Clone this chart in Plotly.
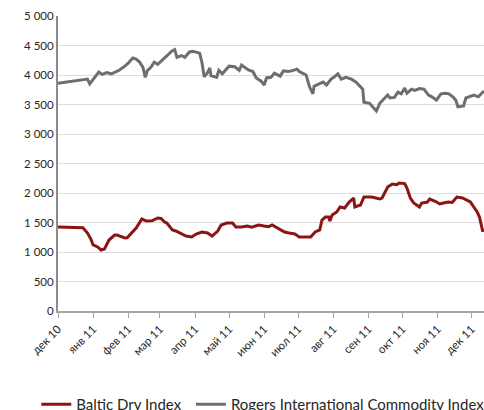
import plotly.graph_objects as go

month_ticks = ["2010-12-01", "2011-01-01", "2011-02-01", "2011-03-01", "2011-04-01", "2011-05-01",
               "2011-06-01", "2011-07-01", "2011-08-01", "2011-09-01", "2011-10-01", "2011-11-01",
               "2011-12-01"]
month_labels = ["дек 10", "янв 11", "фев 11", "мар 11", "апр 11", "май 11", "июн 11",
                "июл 11", "авг 11", "сен 11", "окт 11", "ноя 11", "дек 11"]

y_ticks = [0, 500, 1000, 1500, 2000, 2500, 3000, 3500, 4000, 4500, 5000]

rogers_dates = [
    "2010-12-01", "2010-12-24", "2010-12-27", "2010-12-29", "2011-01-06", "2011-01-09", "2011-01-13",
    "2011-01-17", "2011-01-21", "2011-01-24", "2011-01-29", "2011-02-01", "2011-02-05", "2011-02-08",
    "2011-02-11", "2011-02-14", "2011-02-16", "2011-02-18", "2011-02-21", "2011-02-24", "2011-02-27",
    "2011-03-02", "2011-03-05", "2011-03-08", "2011-03-11", "2011-03-14", "2011-03-16", "2011-03-20",
    "2011-03-23", "2011-03-27", "2011-03-30", "2011-04-02", "2011-04-05", "2011-04-07", "2011-04-09",
    "2011-04-12", "2011-04-14", "2011-04-15", "2011-04-20", "2011-04-22", "2011-04-25", "2011-05-01",
    "2011-05-06", "2011-05-10", "2011-05-12", "2011-05-18", "2011-05-22", "2011-05-25", "2011-05-29",
    "2011-06-01", "2011-06-03", "2011-06-07", "2011-06-10", "2011-06-15", "2011-06-18", "2011-06-22",
    "2011-06-25", "2011-06-30", "2011-07-02", "2011-07-06", "2011-07-08", "2011-07-11", "2011-07-14",
    "2011-07-15", "2011-07-20", "2011-07-23", "2011-07-26", "2011-07-30", "2011-08-02", "2011-08-05",
    "2011-08-08", "2011-08-12", "2011-08-17", "2011-08-21", "2011-08-27", "2011-08-28", "2011-09-02",
    "2011-09-05", "2011-09-08", "2011-09-11", "2011-09-15", "2011-09-18", "2011-09-20", "2011-09-24",
    "2011-09-27", "2011-09-30", "2011-10-03", "2011-10-05", "2011-10-09", "2011-10-12", "2011-10-16",
    "2011-10-20", "2011-10-24", "2011-10-27", "2011-10-31", "2011-11-04", "2011-11-08", "2011-11-11",
    "2011-11-15", "2011-11-17", "2011-11-19", "2011-11-24", "2011-11-26", "2011-11-30", "2011-12-03",
    "2011-12-07", "2011-12-10", "2011-12-12"]
rogers_values = [
    3860, 3915, 3930, 3850, 4050, 4010, 4040,
    4020, 4060, 4080, 4150, 4200, 4290, 4270,
    4220, 4130, 3960, 4080, 4130, 4220, 4180,
    4230, 4290, 4340, 4400, 4430, 4300, 4330,
    4300, 4390, 4400, 4380, 4370, 4220, 3970,
    4040, 4120, 3990, 3960, 4080, 4020, 4150,
    4140, 4080, 4170, 4085, 4060, 3950, 3900,
    3830, 3950, 3960, 4030, 3980, 4070, 4060,
    4070, 4100, 4060, 4020, 4000, 3800, 3680,
    3810, 3860, 3880, 3830, 3930, 3970, 4020,
    3930, 3960, 3930, 3880, 3760, 3540, 3520,
    3450, 3390, 3520, 3600, 3660, 3610, 3620,
    3710, 3680, 3780, 3690, 3760, 3740, 3770,
    3760, 3660, 3630, 3575, 3680, 3690, 3680,
    3620, 3575, 3460, 3475, 3610, 3640, 3660,
    3630, 3700, 3730]

bdi_dates = [
    "2010-12-01", "2010-12-23", "2010-12-27", "2010-12-30", "2011-01-01", "2011-01-05", "2011-01-08",
    "2011-01-11", "2011-01-15", "2011-01-20", "2011-01-22", "2011-01-26", "2011-01-29", "2011-01-31",
    "2011-02-05", "2011-02-08", "2011-02-13", "2011-02-17", "2011-02-22", "2011-02-27", "2011-03-02",
    "2011-03-05", "2011-03-07", "2011-03-12", "2011-03-15", "2011-03-20", "2011-03-24", "2011-03-29",
    "2011-04-02", "2011-04-07", "2011-04-12", "2011-04-16", "2011-04-21", "2011-04-24", "2011-04-29",
    "2011-05-04", "2011-05-07", "2011-05-12", "2011-05-17", "2011-05-21", "2011-05-24", "2011-05-27",
    "2011-06-01", "2011-06-05", "2011-06-08", "2011-06-13", "2011-06-19", "2011-06-23", "2011-06-28",
    "2011-07-02", "2011-07-12", "2011-07-16", "2011-07-20", "2011-07-22", "2011-07-25", "2011-07-28",
    "2011-07-29", "2011-07-31", "2011-08-04", "2011-08-07", "2011-08-11", "2011-08-15", "2011-08-19",
    "2011-08-20", "2011-08-25", "2011-08-28", "2011-09-04", "2011-09-11", "2011-09-13", "2011-09-18",
    "2011-09-22", "2011-09-26", "2011-09-28", "2011-10-03", "2011-10-05", "2011-10-08", "2011-10-11",
    "2011-10-16", "2011-10-18", "2011-10-23", "2011-10-25", "2011-10-30", "2011-11-03", "2011-11-08",
    "2011-11-11", "2011-11-14", "2011-11-18", "2011-11-23", "2011-11-30", "2011-12-03", "2011-12-06",
    "2011-12-08", "2011-12-11"]
bdi_values = [
    1424, 1410, 1322, 1220, 1119, 1085, 1034,
    1050, 1203, 1288, 1288, 1260, 1237, 1240,
    1339, 1407, 1559, 1525, 1530, 1576, 1570,
    1508, 1492, 1373, 1356, 1305, 1271, 1254,
    1305, 1339, 1322, 1271, 1356, 1458, 1492,
    1492, 1424, 1424, 1440, 1420, 1445, 1458,
    1440, 1430, 1458, 1407, 1339, 1322, 1305,
    1254, 1254, 1339, 1373, 1542, 1593, 1593,
    1525, 1627, 1678, 1763, 1746, 1847, 1915,
    1763, 1797, 1932, 1932, 1898, 1915, 2102,
    2153, 2140, 2169, 2160, 2085, 1915, 1830,
    1763, 1830, 1847, 1898, 1860, 1814, 1840,
    1847, 1840, 1932, 1915, 1847, 1763, 1678,
    1593, 1339]

FONT = "Lato, 'Open Sans', 'Liberation Sans', sans-serif"

fig = go.Figure()
fig.add_trace(go.Scatter(x=bdi_dates, y=bdi_values, mode="lines", name="Baltic Dry Index",
                         line=dict(color="#8B1414", width=3), legend="legend"))
fig.add_trace(go.Scatter(x=rogers_dates, y=rogers_values, mode="lines",
                         name="Rogers International Commodity Index",
                         line=dict(color="#6E6E70", width=3), legend="legend2"))

legend_font = dict(family=FONT, size=15, color="#262626")

fig.update_layout(
    width=484, height=410,
    margin=dict(l=58, r=0, t=16, b=99, autoexpand=False),
    paper_bgcolor="white", plot_bgcolor="white",
    separators=". ",
    font=dict(family=FONT, size=11.5, color="#262626"),
    showlegend=True,
    legend=dict(orientation="h", x=-0.051, xanchor="left", y=-0.261, yanchor="top",
                font=legend_font, itemwidth=30),
    legend2=dict(orientation="h", x=0.312, xanchor="left", y=-0.261, yanchor="top",
                 font=legend_font, itemwidth=30),
)
fig.update_xaxes(
    type="date", range=["2010-12-01", "2011-12-12"], automargin=False,
    tickmode="array", tickvals=month_ticks, ticktext=month_labels, tickangle=-45,
    showgrid=False, showline=True, linecolor="#A6A6A6", linewidth=2,
    ticks="outside", ticklen=5, tickcolor="#A6A6A6", tickwidth=1,
    zeroline=False,
)
fig.update_yaxes(
    range=[0, 5000], tickmode="array", tickvals=y_ticks, tickformat=",d", automargin=False,
    showgrid=True, gridcolor="#DCDCDC", gridwidth=1,
    showline=True, linecolor="#8C8C8C", linewidth=2, zeroline=False,
    ticks="", ticklen=0,
)

page_fix = ("document.documentElement.style.margin='0';"
            "document.documentElement.style.overflow='hidden';"
            "document.body.style.margin='0';"
            "document.body.style.overflow='hidden';")

fig.write_html("out.html", post_script=page_fix, config={"displayModeBar": False})
